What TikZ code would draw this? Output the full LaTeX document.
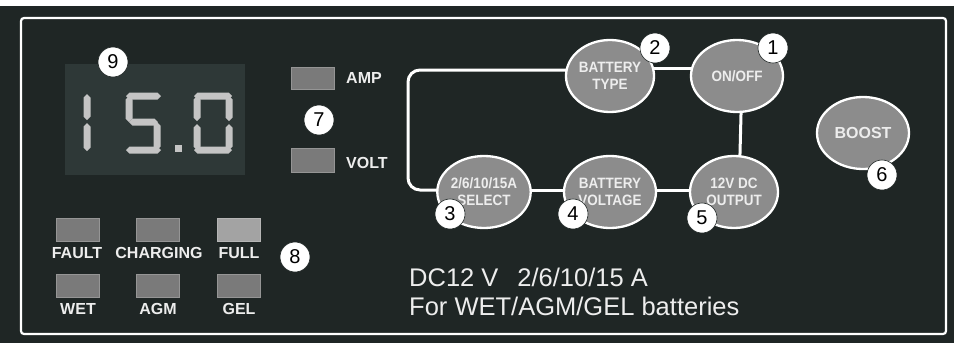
\documentclass[tikz,border=0pt]{standalone}
\usepackage{fontspec}
\setmainfont{Liberation Sans}
\newfontfamily\btnfont[FakeStretch=0.9]{Liberation Sans}
\usetikzlibrary{shapes.geometric,calc}
\pgfdeclarelayer{bg}
\pgfdeclarelayer{wires}
\pgfsetlayers{bg,wires,main}
\definecolor{panel}{HTML}{1F2625}
\definecolor{lcd}{HTML}{2E3837}
\definecolor{seg}{HTML}{C4C4C4}
\definecolor{led}{HTML}{7A7A7A}
\definecolor{ledlight}{HTML}{A3A3A3}
\definecolor{btn}{HTML}{8C8C8C}
\definecolor{txt}{HTML}{EDEDED}
\newcommand\lcdh[3]{\fill[seg] (#1,#3) -- ++(3.5,-3.5) -- (#2-3.5,#3-3.5) -- (#2,#3) -- (#2-3.5,#3+3.5) -- (#1+3.5,#3+3.5) -- cycle;}
\newcommand\lcdv[3]{\fill[seg] (#1,#2) -- ++(3.5,3.5) -- (#1+3.5,#3-3.5) -- (#1,#3) -- (#1-3.5,#3-3.5) -- (#1-3.5,#2+3.5) -- cycle;}
\tikzset{
  btnnode/.style={ellipse, minimum width=88pt, minimum height=72pt, inner sep=0pt, fill=btn, draw=white, line width=2.3pt, text=txt, align=center, font=\btnfont\bfseries\fontsize{15}{17}\selectfont},
  numcirc/.style={circle, fill=white, draw=panel, line width=0.6pt, minimum size=30pt, inner sep=0pt, font=\fontsize{20}{20}\selectfont, text=black},
  ledbox/.style={fill=led, draw=led!80!white, line width=0.6pt},
  ledlabel/.style={text=txt, font=\bfseries\fontsize{16}{16}\selectfont, inner sep=0pt},
  wire/.style={draw=white, line width=3pt},
  bigtext/.style={text=txt, font=\fontsize{25.5}{25.5}\selectfont, inner sep=0pt, anchor=west}
}
\begin{document}
\begin{tikzpicture}[x=1pt,y=-1pt]
\useasboundingbox (0,0) rectangle (954,343);
\begin{pgfonlayer}{bg}
\fill[panel] (0,0) rectangle (954,343);
\fill[white] (0,0) rectangle (954,6);
\draw[white, line width=2.2pt, rounded corners=3pt] (21,18) rectangle (946,334);
% LCD
\fill[lcd] (65,64) rectangle (245,175);
\end{pgfonlayer}
% digit 1
\lcdv{87}{94}{120}
\lcdv{87}{123}{151}
% digit 5
\lcdh{126}{161}{96}
\lcdv{129}{96}{122}
\lcdh{129}{158}{122}
\lcdv{157}{122}{150}
\lcdh{126}{161}{150}
% dot
\fill[seg] (175,145) rectangle (182,152);
% digit 0
\lcdh{194}{232}{96}
\lcdv{197}{96}{121}
\lcdv{197}{124}{150}
\lcdv{229}{96}{121}
\lcdv{229}{124}{150}
\lcdh{194}{232}{150}
% AMP / VOLT
\node[ledbox, minimum width=43pt, minimum height=22pt, inner sep=0pt] (ampled) at (312.5,78) {};
\node[ledbox, minimum width=43pt, minimum height=24pt, inner sep=0pt] (voltled) at (312.5,160) {};
\node[ledlabel, anchor=west] (amp) at (346,78) {AMP};
\node[ledlabel, anchor=west] (volt) at (346,163) {VOLT};
% status LEDs
\node[ledbox, minimum width=43pt, minimum height=23pt, inner sep=0pt] (ledfault) at (77.5,229.5) {};
\node[ledbox, minimum width=43pt, minimum height=23pt, inner sep=0pt] (ledchg) at (157.5,229.5) {};
\node[ledbox, fill=ledlight, draw=ledlight!80!white, minimum width=43pt, minimum height=23pt, inner sep=0pt] (ledfull) at (239,229.5) {};
\node[ledbox, minimum width=43pt, minimum height=23pt, inner sep=0pt] (ledwet) at (77.5,285.5) {};
\node[ledbox, minimum width=43pt, minimum height=23pt, inner sep=0pt] (ledagm) at (157.5,285.5) {};
\node[ledbox, minimum width=43pt, minimum height=23pt, inner sep=0pt] (ledgel) at (239,285.5) {};
\node[ledlabel] (lfault) at (77,253) {FAULT};
\node[ledlabel] (lchg) at (159,253) {CHARGING};
\node[ledlabel] (lfull) at (239,253) {FULL};
\node[ledlabel] (lwet) at (78,309) {WET};
\node[ledlabel] (lagm) at (158,309) {AGM};
\node[ledlabel] (lgel) at (239,309) {GEL};
% buttons
\node[btnnode] (bt) at (610,76) {BATTERY\\TYPE};
\node[btnnode, minimum width=92pt] (onoff) at (737,76) {ON/OFF};
\node[btnnode, minimum width=92pt] (sel) at (484,192) {2/6/10/15A\\SELECT};
\node[btnnode, minimum width=92pt] (bv) at (610,192) {BATTERY\\VOLTAGE};
\node[btnnode] (out) at (734,192) {12V DC\\OUTPUT};
\node[btnnode, minimum width=92pt, font=\bfseries\fontsize{16}{16}\selectfont] (boost) at (863,133) {BOOST};
\coordinate (lc) at (408,130);
\begin{pgfonlayer}{wires}
\draw[wire] ([yshift=8pt]bt.center) -- ([yshift=8pt]onoff.center);
\draw[wire, rounded corners=12pt] ([yshift=6pt]bt.center) -| (lc) |- ([yshift=2pt]sel.center);
\draw[wire] ([yshift=2pt]sel.center) -- ([yshift=2pt]bv.center);
\draw[wire] ([yshift=2pt]bv.center) -- ([yshift=2pt]out.center);
\draw[wire] ([xshift=5pt]onoff.center) -- ([xshift=5pt]out.center);
\end{pgfonlayer}
% number circles
\node[numcirc] (n1) at (773,48) {1};
\node[numcirc] (n2) at (655,48) {2};
\node[numcirc] (n3) at (450,214) {3};
\node[numcirc] (n4) at (573,214) {4};
\node[numcirc] (n5) at (702,218) {5};
\node[numcirc] (n6) at (882,175) {6};
\node[numcirc] (n7) at (319,120) {7};
\node[numcirc] (n8) at (295,257) {8};
\node[numcirc] (n9) at (113,62) {9};
% ratings text
\node[bigtext] (rating) at (409,277) {DC12 V\hspace{19pt}2/6/10/15 A};
\node[bigtext] (usage) at (409,306) {For WET/AGM/GEL batteries};
\end{tikzpicture}
\end{document}
